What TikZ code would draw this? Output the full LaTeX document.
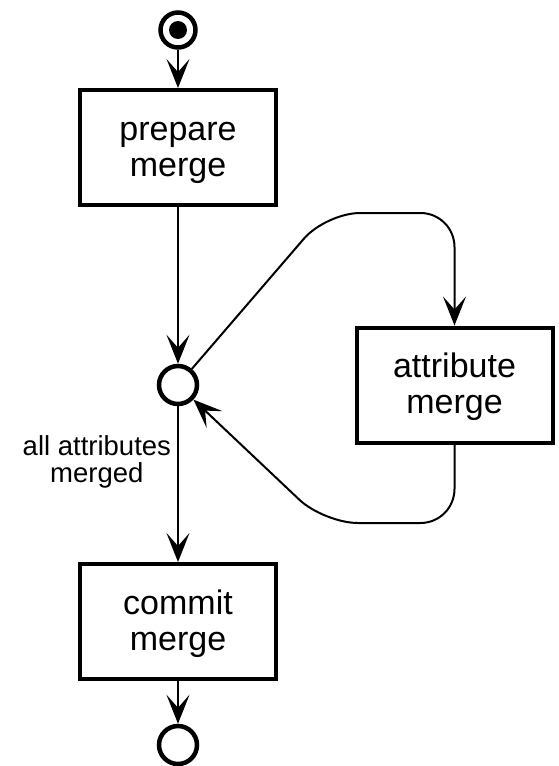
\documentclass[tikz,border=0pt]{standalone}
\usepackage{fontspec}
\setmainfont{Liberation Sans}
\usetikzlibrary{arrows.meta}

\begin{document}
\begin{tikzpicture}[
	x=1pt, y=-1pt,
	line width=2pt,
	>={Stealth[length=29pt, width=23pt, inset=13pt]},
	activity/.style={draw, line width=4pt, minimum width=196pt, minimum height=115pt, align=center, font=\fontsize{34}{36}\selectfont, text height=65pt},
	state/.style={draw, circle, line width=4.5pt, minimum size=38pt, inner sep=0pt}
]
	\useasboundingbox (0,0) rectangle (558,766);

	% states and activities
	\node[state, minimum size=35pt] (start) at (178,30) {};
	\fill (start.center) circle(9pt);
	\node[activity] (prepare) at (178,147.5) {prepare\\merge};
	\node[state] (merge) at (178,385) {};
	\node[activity] (attribute) at (454.5,385) {attribute\\merge};
	\node[activity] (commit) at (178,621.5) {commit\\merge};
	\node[state] (end) at (178,745) {};

	% loop corners
	\coordinate (loopin) at (326,213);
	\coordinate (loopout) at (324,523);

	\draw[->] (start) -- (prepare);
	\draw[->] (prepare) -- (merge);
	\draw[->, rounded corners=34pt] (merge) -- (loopin) -| (attribute);
	\draw[->, rounded corners=34pt] (attribute) |- (loopout) -- (merge);
	\draw[->] (merge) -- node[
		left=6pt,
		pos=0.36,
		inner sep=0pt,
		align=center,
		font=\fontsize{27.5}{27}\selectfont
	] (mergedlabel) {all attributes\\merged} (commit);
	\draw[->] (commit) -- (end);
\end{tikzpicture}
\end{document}
